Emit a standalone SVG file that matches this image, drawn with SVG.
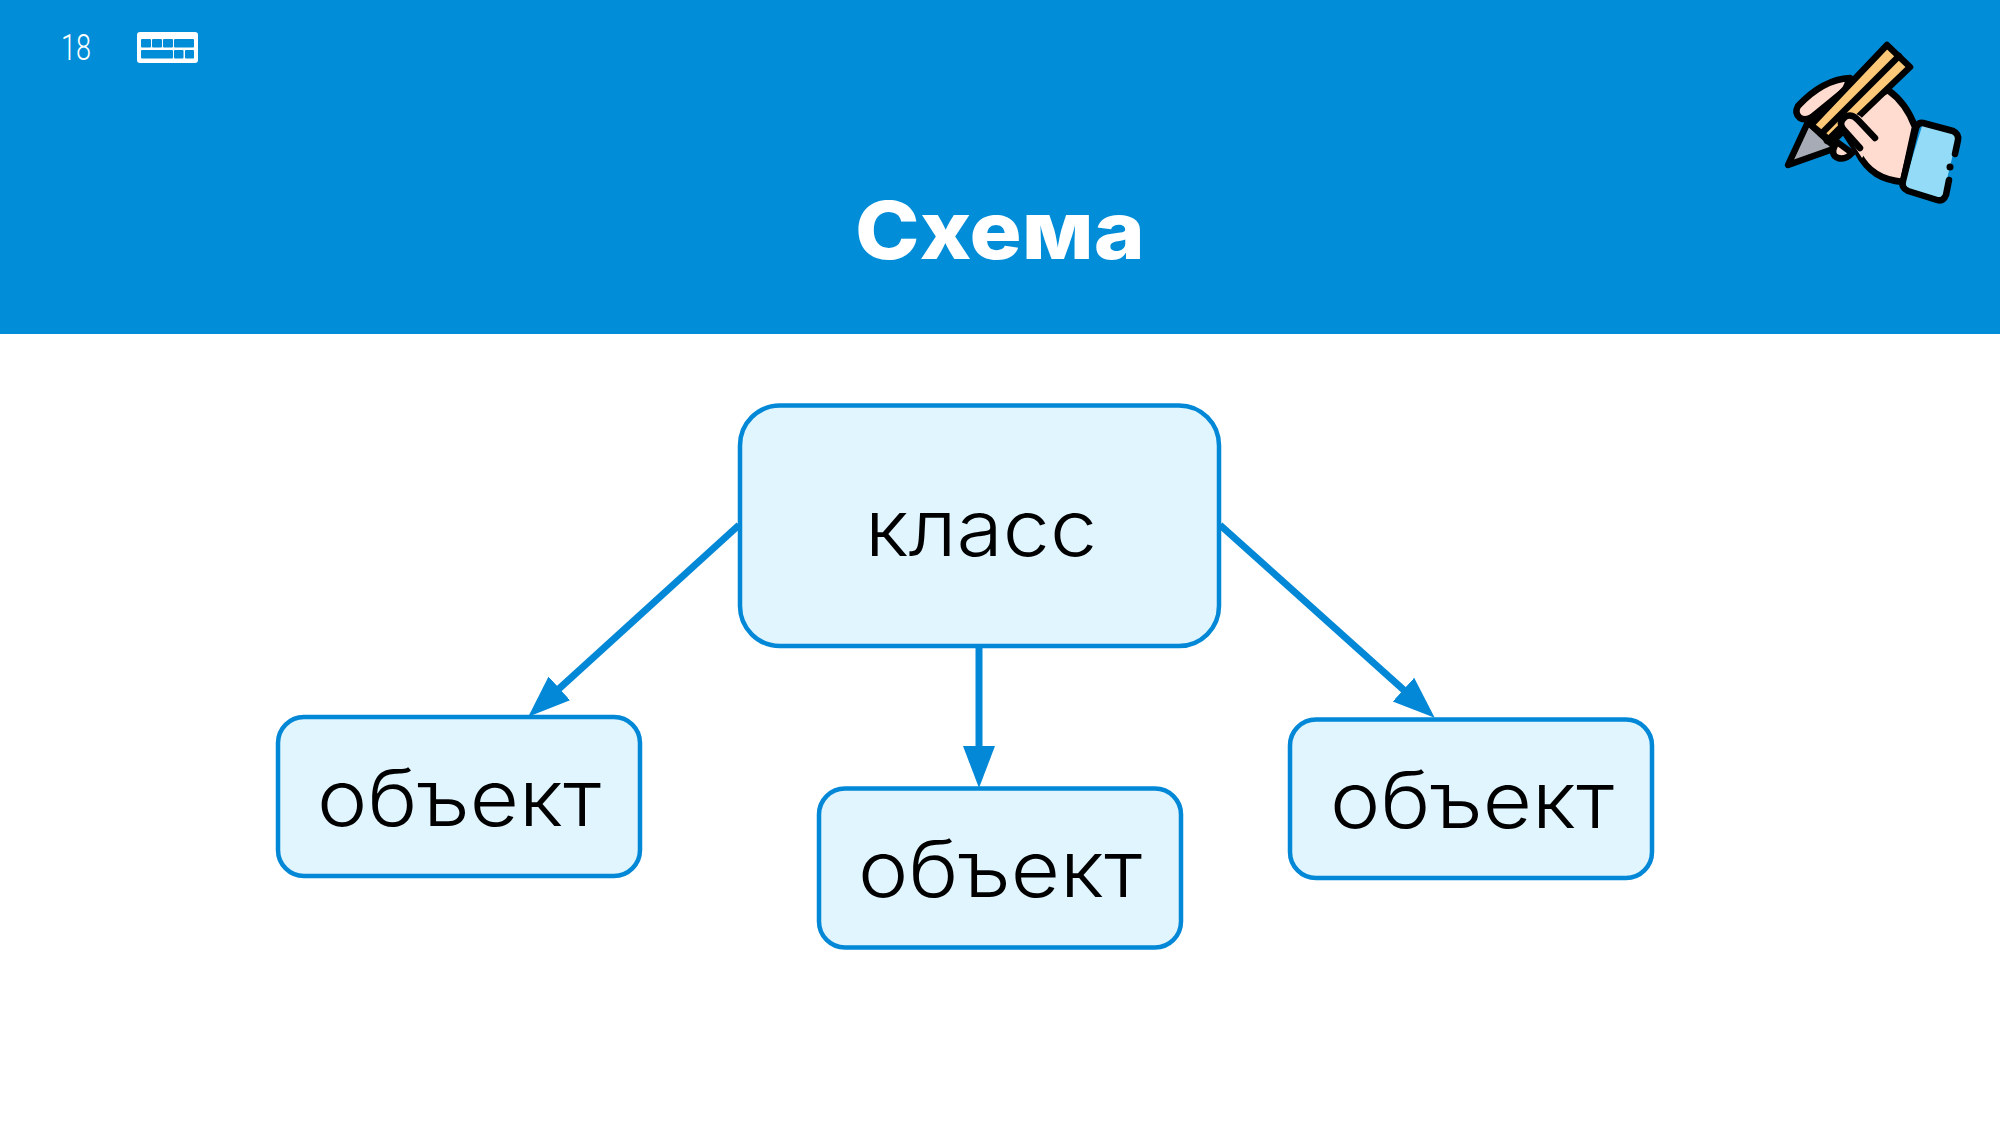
<svg xmlns="http://www.w3.org/2000/svg" width="2000" height="1125" viewBox="0 0 2000 1125">
<style>
.box{fill:#e1f5fe;stroke:#0288d6;stroke-width:4.500}
.lbl{font-family:Inter,"Noto Sans",sans-serif;font-weight:300;fill:#000;text-anchor:middle}
.conn{stroke:#0288d6;stroke-width:7;fill:none}
.o{stroke:#000;stroke-width:6.500;stroke-linejoin:round;stroke-linecap:round}
</style>
<defs>
<marker id="arr" markerUnits="userSpaceOnUse" markerWidth="44" markerHeight="34" refX="1" refY="16" orient="auto"><path d="M0 0L42 16L0 32Z" fill="#0288d6"/></marker>
</defs>
<rect width="2000" height="1125" fill="#fff"/>
<rect id="header" width="2000" height="334" fill="#028dd8"/>
<text x="76" y="60" font-family="Roboto,sans-serif" font-weight="300" font-size="36" fill="#fff" text-anchor="middle" textLength="30" lengthAdjust="spacingAndGlyphs">18</text>
<g id="keyboard">
<rect x="137" y="32" width="61" height="31" rx="3" fill="#fff"/>
<g fill="#028dd8"><rect x="141" y="39" width="10" height="8.500" rx="1"/><rect x="152" y="39" width="10" height="8.500" rx="1"/><rect x="163" y="39" width="10" height="8.500" rx="1"/><rect x="174" y="39" width="20" height="8.500" rx="1"/><rect x="141" y="50" width="32" height="8.500" rx="1"/><rect x="174" y="50" width="9.500" height="8.500" rx="1"/><rect x="185" y="50" width="9" height="8.500" rx="1"/></g>
</g>
<text id="title" x="1000" y="259" font-family="Inter,sans-serif" font-weight="800" font-size="80" fill="#fff" text-anchor="middle" textLength="290" lengthAdjust="spacingAndGlyphs">Схема</text>
<g id="hand-icon">
<path class="o" d="M1788 165L1808 122L1836 148Z" fill="#a6abb5"/>
<path class="o" d="M1837 142L1852 153Q1846 160 1838 158Q1830 155 1835 145Z" fill="#ffdccf"/>
<path class="o" d="M1850 78C1830 79 1813 90 1798 106Q1794 113 1800 118Q1806 121 1812 117L1845 90Z" fill="#ffdccf"/>
<path class="o" d="M1888 90C1902 100 1910 113 1915 127L1903 182C1882 180 1868 172 1858 153L1840 125L1870 100Z" fill="#ffdccf"/>
<path class="o" d="M1811 125L1887 45L1910 67L1832 142Z" fill="#fdc978"/>
<path class="o" d="M1821 134L1899 56" fill="none"/>
<path class="o" d="M1827 141L1839 129" fill="none"/>
<path d="M1860 116L1878 134L1862 158L1843 128Q1836 121 1843 115Q1851 110 1860 116Z" fill="#ffdccf"/>
<path class="o" d="M1875 138L1858 120Q1851 113 1845 117Q1838 122 1843 129L1860 148" fill="none"/>
<path d="M1923 123L1958 133L1942 200L1903 188Z" fill="#93dbf6"/>
<path class="o" d="M1955 154L1958 140Q1959 134 1953 131L1923 123Q1918 122 1916 128L1903 181Q1901 188 1908 191L1937 200Q1943 202 1946 195L1949 180" fill="none"/>
<circle cx="1950" cy="167" r="3.500" fill="#000"/>
</g>
<g id="node-class"><rect class="box" x="740" y="405.500" width="479" height="240.500" rx="40"/><text class="lbl" x="981" y="556" font-size="78" textLength="232" lengthAdjust="spacingAndGlyphs">класс</text></g>
<g id="node-object-1"><rect class="box" x="278" y="717" width="362" height="159" rx="26"/><text class="lbl" x="459" y="826" font-size="78" textLength="284" lengthAdjust="spacingAndGlyphs">объект</text></g>
<g id="node-object-2"><rect class="box" x="819" y="788.500" width="362" height="159" rx="26"/><text class="lbl" x="1000" y="897" font-size="78" textLength="284" lengthAdjust="spacingAndGlyphs">объект</text></g>
<g id="node-object-3"><rect class="box" x="1290" y="719.500" width="362" height="158.500" rx="26"/><text class="lbl" x="1472" y="828" font-size="78" textLength="284" lengthAdjust="spacingAndGlyphs">объект</text></g>
<g id="connectors">
<line class="conn" x1="739" y1="525" x2="558.600" y2="689.100" marker-end="url(#arr)"/>
<line class="conn" x1="979" y1="648" x2="979" y2="747" marker-end="url(#arr)"/>
<line class="conn" x1="1220" y1="525" x2="1404.200" y2="690.300" marker-end="url(#arr)"/>
</g>
</svg>
